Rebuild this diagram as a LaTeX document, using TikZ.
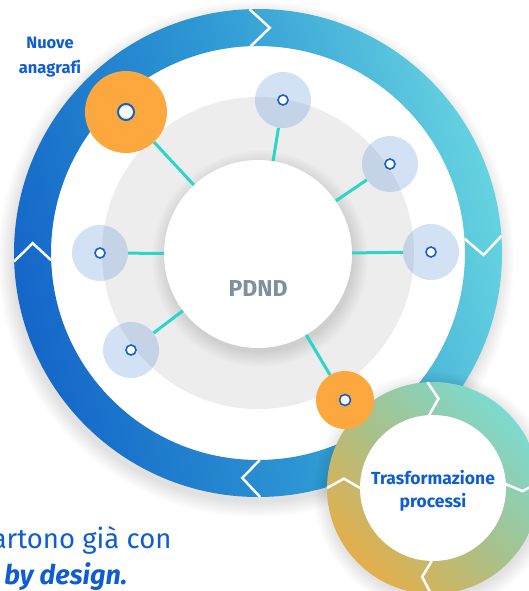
\documentclass[tikz,border=0pt]{standalone}
\usepackage{fontspec}
\setmainfont{Fira Sans}[Ligatures=NoCommon]
\definecolor{ringA}{HTML}{1466C8}
\definecolor{ringM}{HTML}{2E98D4}
\definecolor{ringB}{HTML}{66D3E0}
\definecolor{ringTwoA}{HTML}{E4AE4A}
\definecolor{ringTwoM}{HTML}{A7C18C}
\definecolor{ringTwoB}{HTML}{7CDACF}
\definecolor{graydisc}{HTML}{EDEDED}
\definecolor{satblue}{HTML}{3F7FD0}
\definecolor{orangec}{HTML}{FDA83E}
\definecolor{dotblue}{HTML}{1560C8}
\definecolor{spokec}{HTML}{2CD5C9}
\definecolor{textblue}{HTML}{0F5DD0}
\definecolor{pdndgray}{HTML}{7C909E}
\newcommand\chevmark[5]{\draw[chev] ([shift={(#2:#4)}]#1) -- ([shift={({#2+#3}:{(#4+#5)/2})}]#1) -- ([shift={(#2:#5)}]#1);}
\newcommand\softshadow[3]{\foreach \k in {1,...,10}{\fill[black,opacity=0.012] (#1,#2) circle[radius={#3+\k*1.6}];}}
\begin{document}
\begin{tikzpicture}[x=1pt,y=-1pt,
  sat/.style={circle,fill=satblue,fill opacity=0.23,minimum size=56pt,inner sep=0pt},
  orangesat/.style={circle,fill=orangec,inner sep=0pt},
  dot/.style={circle,fill=white,draw=dotblue,line width=1.6pt,inner sep=0pt,minimum size=10pt},
  spoke/.style={draw=spokec,line width=3pt},
  chev/.style={draw=white,line width=2.5pt,line join=miter},
  lbl/.style={text=textblue,font=\bfseries,align=center}]
\useasboundingbox (0,0) rectangle (529,591);
\clip (0,0) rectangle (529,591);
\fill[white] (0,0) rectangle (529,591);
\coordinate (C) at (258,253);
\coordinate (Q) at (433,488);
% big ring
\softshadow{256}{259}{242}
\fill[white] (C) circle (207pt);
\shade[even odd rule,left color=ringA,right color=ringB,middle color=ringM,shading angle=104] (C) circle (244pt) circle (207pt);
\chevmark{C}{268}{5}{244}{207}
\chevmark{C}{356}{4.5}{244}{207}
\chevmark{C}{89.5}{4.5}{244}{207}
\chevmark{C}{178}{4.5}{244}{207}
% gray disc
\fill[graydisc] (C) circle (156pt);
% center
\softshadow{260}{259}{92}
\node[circle,fill=white,minimum size=188pt,inner sep=0pt] (P) at (258,254) {};
\node[text=pdndgray,font=\bfseries\fontsize{23}{26}\selectfont] (pdndlabel) at (258,289) {PDND};
% satellites
\node[sat] (s1) at (283,100) {};
\node[sat] (s2) at (390,164) {};
\node[sat] (s3) at (431,252) {};
\node[sat] (s4) at (100,253) {};
\node[sat] (s5) at (131,350) {};
\node[orangesat,minimum size=82pt] (o1) at (126,112) {};
\foreach \s in {s1,s2,s3,s4,s5,o1}{\draw[spoke] (P) -- (\s);}
\node[dot] (d1) at (s1) {};
\node[dot] (d2) at (s2) {};
\node[dot] (d3) at (s3) {};
\node[dot] (d4) at (s4) {};
\node[dot] (d5) at (s5) {};
\node[dot,minimum size=16pt,line width=2pt] (d6) at (o1) {};
% second ring
\softshadow{434}{492}{104}
\shade[left color=ringTwoA,right color=ringTwoB,middle color=ringTwoM,shading angle=135] (Q) circle (106pt);
\chevmark{Q}{267}{6.5}{106}{73}
\chevmark{Q}{357}{5}{106}{73}
\chevmark{Q}{91}{6}{106}{73}
\chevmark{Q}{180}{6}{106}{73}
\node[circle,fill=white,minimum size=146pt,inner sep=0pt] (T) at (Q) {};
\node[lbl,font=\bfseries\fontsize{17.5}{23}\selectfont] (tlabel) at (433,491) {Trasformazione\\processi};
% bottom orange
\node[orangesat,minimum size=58pt] (o2) at (345,400) {};
\draw[spoke] (P) -- (o2);
\node[dot,minimum size=11pt] (d7) at (o2) {};
% labels
\node[lbl,font=\bfseries\fontsize{16.5}{25}\selectfont] (na) at (50,57) {Nuove\\anagrafi};
\node[text=textblue,anchor=base east,font=\fontsize{27.5}{30}\selectfont] (b1) at (175,548) {artono già con};
\node[text=textblue,anchor=base east,font=\bfseries\itshape\fontsize{27}{30}\selectfont] (b2) at (131,584) {by design.};
\end{tikzpicture}
\end{document}
